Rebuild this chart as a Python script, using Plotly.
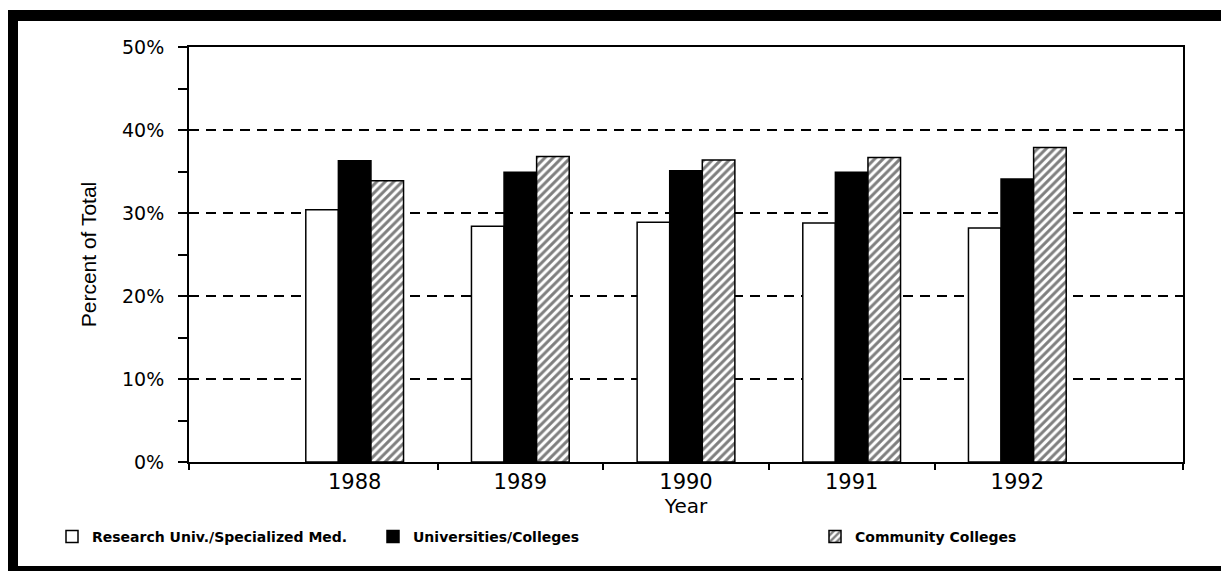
import plotly.graph_objects as go

years = [1988, 1989, 1990, 1991, 1992]
year_labels = ["1988", "1989", "1990", "1991", "1992"]
research_univ = [30.4, 28.4, 28.9, 28.8, 28.2]
universities = [36.3, 34.9, 35.1, 34.9, 34.1]
community = [33.9, 36.8, 36.4, 36.7, 37.9]
series_names = ["Research Univ./Specialized Med.", "Universities/Colleges", "Community Colleges"]
y_ticks = [0, 10, 20, 30, 40, 50]
y_tick_labels = ["0%", "10%", "20%", "30%", "40%", "50%"]

OFF = 8  # page body margin
W, H = 1229 - OFF, 571 - OFF
L, R, T, B = 189 - OFF, 1183 - OFF, 47 - OFF, 462 - OFF


def px(X):
    return (X - OFF - L) / (R - L)


def py(Y):
    return (B - (Y - OFF)) / (B - T)


fig = go.Figure()
line = dict(color="black", width=1.5)
fig.add_trace(go.Bar(x=years, y=research_univ, name=series_names[0],
                     marker=dict(color="white", line=line), legend="legend",
                     showlegend=True))
fig.add_trace(go.Bar(x=years, y=universities, name=series_names[1],
                     marker=dict(color="black", line=line), legend="legend2",
                     showlegend=True))
fig.add_trace(go.Bar(x=years, y=community, name=series_names[2],
                     marker=dict(color="white", line=line,
                                 pattern=dict(shape="/", fgcolor="black", bgcolor="white",
                                              size=6, solidity=0.5)),
                     legend="legend3", showlegend=True))

tickfont = dict(family="DejaVu Sans", size=19, color="black")
legfont = dict(family="DejaVu Sans", size=14, color="black", weight="bold")

fig.update_layout(
    width=W, height=H, autosize=False, showlegend=True,
    margin=dict(l=L, r=W - R, t=T, b=H - B, pad=0),
    paper_bgcolor="white", plot_bgcolor="white",
    barmode="group", bargap=0.41, bargroupgap=0,
    xaxis=dict(range=[1987, 1993], tickvals=years, ticktext=year_labels,
               ticks="", tickfont=dict(family="DejaVu Sans", size=21, color="black"),
               ticklabelstandoff=0,
               showline=True, linecolor="black", linewidth=2, mirror=True,
               showgrid=False, zeroline=False,
               minor=dict(tickvals=[1987, 1988.5, 1989.5, 1990.5, 1991.5, 1993],
                          ticks="outside", ticklen=6, tickwidth=1.5, tickcolor="black",
                          showgrid=False),
               title=dict(text="Year", font=dict(family="DejaVu Sans", size=20, color="black"),
                          standoff=0)),
    yaxis=dict(range=[0, 50], tickvals=y_ticks, ticktext=y_tick_labels,
               ticks="outside", ticklen=9, tickwidth=1.5, tickcolor="black",
               tickfont=tickfont, ticklabelstandoff=10,
               showline=True, linecolor="black", linewidth=2, mirror=True,
               showgrid=True, gridcolor="black", gridwidth=1.5, griddash="10px,7px",
               zeroline=False,
               minor=dict(dtick=5, tick0=0, ticks="outside", ticklen=9, tickwidth=1.5,
                          tickcolor="black", showgrid=False),
               title=dict(text="Percent of Total",
                          font=dict(family="Liberation Sans", size=21, color="black"),
                          standoff=20)),
    legend=dict(x=px(52), y=py(537), xanchor="left", yanchor="middle",
                orientation="h", font=legfont, bgcolor="rgba(0,0,0,0)"),
    legend2=dict(x=px(373), y=py(537), xanchor="left", yanchor="middle",
                 orientation="h", font=legfont, bgcolor="rgba(0,0,0,0)"),
    legend3=dict(x=px(815), y=py(537), xanchor="left", yanchor="middle",
                 orientation="h", font=legfont, bgcolor="rgba(0,0,0,0)"),
)

frame = [
    (7, 10, 18, 571),
    (7, 10, 1229, 21),
    (1223, 10, 1229, 571),
    (7, 566, 1229, 571),
]
for x0, y0, x1, y1 in frame:
    fig.add_shape(type="rect", xref="paper", yref="paper",
                  x0=px(max(x0, OFF)), x1=px(x1), y0=py(max(y0, OFF)), y1=py(y1),
                  fillcolor="black", line=dict(width=0), layer="above")

fig.write_html("out.html")
